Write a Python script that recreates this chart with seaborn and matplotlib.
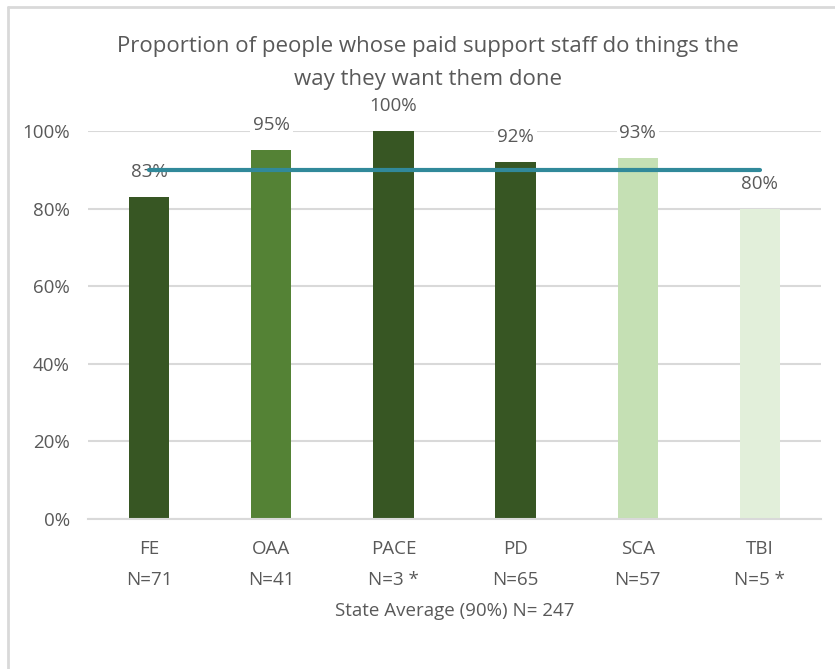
import matplotlib
matplotlib.use("Agg")
import matplotlib.pyplot as plt
import matplotlib.font_manager as fm
import seaborn as sns
import pandas as pd

programs = ["FE", "OAA", "PACE", "PD", "SCA", "TBI"]
sample_sizes = ["N=71", "N=41", "N=3 *", "N=65", "N=57", "N=5 *"]
proportions = [0.83, 0.95, 1.00, 0.92, 0.93, 0.80]
bar_colors = ["#375623", "#548235", "#375623", "#375623", "#C5E0B4", "#E2EFDA"]
state_average = 0.90
state_n = 247
title = "Proportion of people whose paid support staff do things the\nway they want them done"

sns.set_theme(style="white")
names = {f.name for f in fm.fontManager.ttflist}
family = "Liberation Sans Narrow" if "Liberation Sans Narrow" in names else "Open Sans"
plt.rcParams["font.family"] = [family, "DejaVu Sans"]
text_color = "#595959"

df = pd.DataFrame({"program": [f"{p}\n{n}" for p, n in zip(programs, sample_sizes)],
                   "value": proportions})

fig = plt.figure(figsize=(8.35, 6.69), dpi=100)
ax = fig.add_axes([88 / 835, 150 / 669, (821 - 88) / 835, (519 - 131) / 669])

sns.barplot(data=df, x="program", y="value", hue="program",
            palette=bar_colors, width=0.33, legend=False, saturation=1,
            linewidth=0, ax=ax)

ax.set_ylim(0, 1.0)
ax.set_xlim(-0.5, len(programs) - 0.5)
ax.set_yticks([0, 0.2, 0.4, 0.6, 0.8, 1.0])
ax.set_yticklabels([f"{int(round(t * 100))}%" for t in ax.get_yticks()],
                   fontsize=13.5, color=text_color)
ax.tick_params(axis="y", length=0, pad=13)
ax.tick_params(axis="x", length=0, pad=15, labelsize=13.5, labelcolor=text_color)
for lbl in ax.get_xticklabels():
    lbl.set_linespacing(1.95)
ax.grid(axis="y", color="#D9D9D9", linewidth=1.5)
ax.set_axisbelow(True)
for side in ["top", "right", "left"]:
    ax.spines[side].set_visible(False)
ax.spines["bottom"].set_color("#D9D9D9")
ax.spines["bottom"].set_linewidth(1.5)
ax.set_ylabel("")
ax.set_xlabel(f"State Average ({int(state_average * 100)}%) N= {state_n}",
              fontsize=13.5, color=text_color, labelpad=9)

# state average reference line spanning the first to last program
ax.plot([0, len(programs) - 1], [state_average, state_average],
        color="#31899A", linewidth=3, solid_capstyle="round", zorder=4)

for i, v in enumerate(proportions):
    ax.annotate(f"{int(round(v * 100))}%", (i, v), xytext=(0, 18),
                textcoords="offset points", ha="center", va="center",
                fontsize=13.5, color=text_color, zorder=3, annotation_clip=False,
                bbox=dict(boxstyle="square,pad=0.15", fc="white", ec="none"))

fig.text(428 / 835, 1 - 63 / 669, title, ha="center", va="center",
         fontsize=16, color=text_color, linespacing=1.7)

# outer chart frame
fig.add_artist(plt.Line2D([8 / 835, 8 / 835], [0, 1 - 7 / 669],
                          transform=fig.transFigure, color="#D9D9D9", linewidth=2))
fig.add_artist(plt.Line2D([8 / 835, 1], [1 - 7 / 669, 1 - 7 / 669],
                          transform=fig.transFigure, color="#D9D9D9", linewidth=2))

fig.savefig("out.png", dpi=100, facecolor="white")
